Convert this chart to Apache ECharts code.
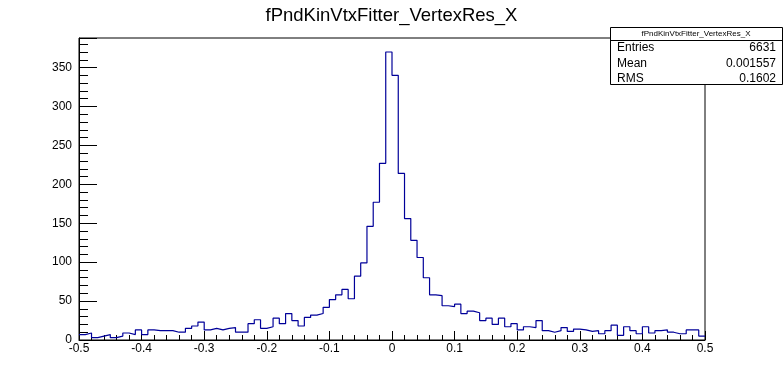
<!DOCTYPE html>
<html>
<head>
<meta charset="utf-8">
<script src="https://cdn.jsdelivr.net/npm/echarts@6/dist/echarts.min.js"></script>
<style>
  html, body { margin: 0; padding: 0; background: #fff; }
</style>
</head>
<body>
<div id="hist" style="width: 783px;height: 377px;"></div>
<script>
// histogram: 100 bins from -0.5 to 0.5
const histTitle = 'fPndKinVtxFitter_VertexRes_X'
const xMin = -0.5
const xMax = 0.5
const binWidth = 0.01
const counts = [
    7, 9, 3, 5, 7, 3, 5, 9, 7, 13,
    7, 13, 12, 12, 12, 10, 10, 15, 18, 23,
    13, 15, 13, 15, 16, 10, 10, 21, 26, 15,
    17, 28, 21, 34, 25, 18, 29, 32, 34, 42,
    52, 58, 65, 53, 82, 99, 146, 177, 227, 370,
    340, 214, 156, 128, 106, 80, 58, 57, 44, 43,
    46, 34, 37, 35, 25, 28, 20, 28, 17, 21,
    13, 17, 16, 25, 12, 10, 12, 16, 11, 14,
    13, 11, 12, 8, 12, 19, 6, 17, 12, 8,
    17, 9, 12, 13, 10, 8, 8, 13, 13, 5
]
const statNames = ['Entries', 'Mean', 'RMS']
const statValues = ['6631', '0.001557', '0.1602']

// step line points: left edge of every bin, plus the right edge of the last one
const points = counts.map((c, i) => [xMin + i * binWidth, c])
points.push([xMax, counts[counts.length - 1]])

const font = 'Liberation Sans, Arial, sans-serif'

var statsGraphics = [
    {
        type: 'rect',
        shape: { x: 610.5, y: 27.5, width: 172, height: 57 },
        style: { fill: '#fff', stroke: '#000', lineWidth: 1 },
        z: 100
    },
    {
        type: 'line',
        shape: { x1: 610.5, y1: 40.5, x2: 782.5, y2: 40.5 },
        style: { stroke: '#000', lineWidth: 1 },
        z: 101
    },
    {
        type: 'text',
        x: 696, y: 34,
        style: { text: histTitle, fontSize: 8, fontFamily: font, fill: '#000', align: 'center', verticalAlign: 'middle' },
        z: 101
    }
]
statNames.forEach((name, i) => {
    statsGraphics.push({
        type: 'text',
        x: 617, y: 48 + i * 15.5,
        style: { text: name, fontSize: 12, fontFamily: font, fill: '#000', verticalAlign: 'middle' },
        z: 101
    })
    statsGraphics.push({
        type: 'text',
        x: 776, y: 48 + i * 15.5,
        style: { text: statValues[i], fontSize: 12, fontFamily: font, fill: '#000', align: 'right', verticalAlign: 'middle' },
        z: 101
    })
})

var option = {
    animation: false,
    title: {
        text: histTitle,
        left: 'center',
        top: 1,
        textStyle: { fontSize: 18.5, fontWeight: 'normal', fontFamily: font, color: '#000' }
    },
    grid: {
        left: 79,
        right: 78,
        top: 38,
        bottom: 37,
        show: true,
        borderColor: '#000',
        borderWidth: 1,
        backgroundColor: 'transparent'
    },
    xAxis: {
        type: 'value',
        min: xMin,
        max: xMax,
        interval: 0.1,
        axisLine: { onZero: false, lineStyle: { color: '#000', width: 1 } },
        axisTick: { inside: true, length: 9, lineStyle: { color: '#000' } },
        minorTick: { show: true, splitNumber: 5, length: 5, lineStyle: { color: '#000' } },
        splitLine: { show: false },
        axisLabel: {
            color: '#000',
            fontSize: 12,
            fontFamily: font,
            margin: 3,
            formatter: function (v) { return String(+v.toFixed(1)) }
        }
    },
    yAxis: {
        type: 'value',
        min: 0,
        max: 388,
        interval: 50,
        axisLine: { show: true, onZero: false, lineStyle: { color: '#000', width: 1 } },
        axisTick: { inside: true, length: 18, lineStyle: { color: '#000' } },
        minorTick: { show: true, splitNumber: 5, length: 9, lineStyle: { color: '#000' } },
        splitLine: { show: false },
        axisLabel: {
            color: '#000',
            fontSize: 12,
            fontFamily: font,
            margin: 7,
            showMaxLabel: false
        }
    },
    series: [
        {
            type: 'line',
            step: 'end',
            data: points,
            symbol: 'none',
            lineStyle: { color: '#000099', width: 1.2 },
            z: 5
        }
    ],
    graphic: statsGraphics
}

let myChart = echarts.init(document.getElementById('hist'))
myChart.setOption(option)
</script>
</body>
</html>
